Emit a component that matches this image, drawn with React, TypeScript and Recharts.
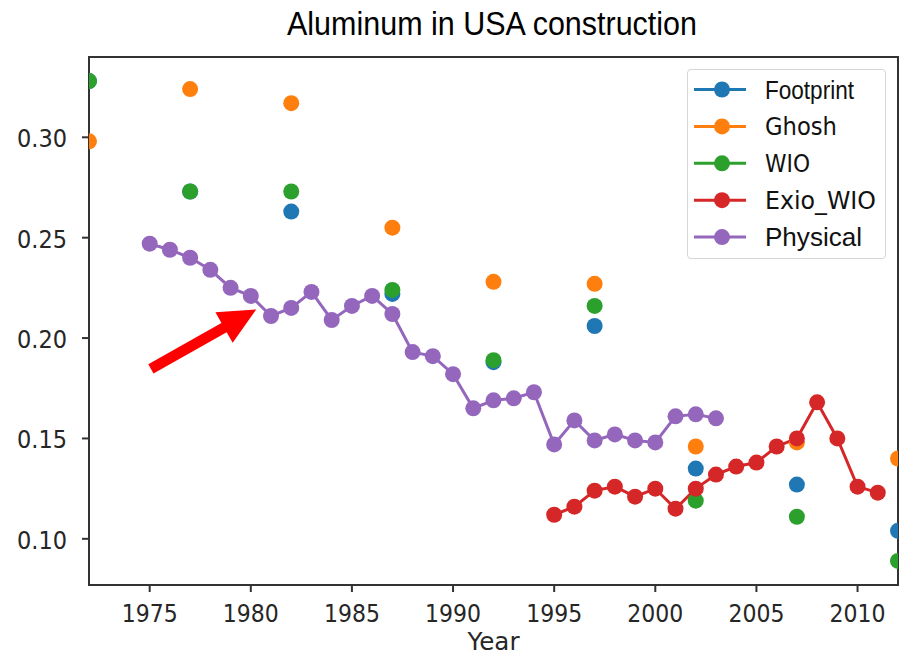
import { LineChart, Line, XAxis, YAxis, ReferenceArea, ReferenceLine, Legend } from 'recharts';

// years with the 5-yearly benchmark estimates
const benchmarkYears = [1972, 1977, 1982, 1987, 1992, 1997, 2002, 2007, 2012];
const footprint = [0.328, 0.273, 0.263, 0.222, 0.188, 0.206, 0.135, 0.127, 0.104];
const ghosh = [0.298, 0.324, 0.317, 0.255, 0.228, 0.227, 0.146, 0.148, 0.140];
const wio = [0.328, 0.273, 0.273, 0.224, 0.189, 0.216, 0.119, 0.111, 0.089];

const exioYears = [1995, 1996, 1997, 1998, 1999, 2000, 2001, 2002, 2003, 2004, 2005, 2006, 2007, 2008, 2009, 2010, 2011];
const exioWio = [0.112, 0.116, 0.124, 0.126, 0.121, 0.125, 0.115, 0.125, 0.132, 0.136, 0.138, 0.146, 0.150, 0.168, 0.150, 0.126, 0.123];

const physicalYears = [1975, 1976, 1977, 1978, 1979, 1980, 1981, 1982, 1983, 1984, 1985, 1986, 1987, 1988, 1989, 1990, 1991, 1992, 1993, 1994, 1995, 1996, 1997, 1998, 1999, 2000, 2001, 2002, 2003];
const physical = [0.247, 0.244, 0.240, 0.234, 0.225, 0.221, 0.211, 0.215, 0.223, 0.209, 0.216, 0.221, 0.212, 0.193, 0.191, 0.182, 0.165, 0.169, 0.170, 0.173, 0.147, 0.159, 0.149, 0.152, 0.149, 0.148, 0.161, 0.162, 0.160];

const xTicks = [1975, 1980, 1985, 1990, 1995, 2000, 2005, 2010];
const yTicks = [0.1, 0.15, 0.2, 0.25, 0.3];
const xDomain = [1972, 2012];
const yDomain = [0.077, 0.34];

// annotation arrow, in data units
const arrowFrom = { x: 1975.06, y: 0.1846 };
const arrowTo = { x: 1980.27, y: 0.2143 };

const series = [
  { key: 'Footprint', color: '#1f77b4', font: 'Liberation Sans', size: 25, len: 89 },
  { key: 'Ghosh', color: '#ff7f0e', font: 'DejaVu Sans', size: 24, len: 72 },
  { key: 'WIO', color: '#2ca02c', font: 'DejaVu Sans', size: 24, len: 45 },
  { key: 'Exio_WIO', color: '#d62728', font: 'DejaVu Sans', size: 24, len: 111 },
  { key: 'Physical', color: '#9467bd', font: 'Liberation Sans', size: 25, len: 97 },
];

const pick = (years: number[], vals: number[], y: number) => {
  const i = years.indexOf(y);
  return i < 0 ? null : vals[i];
};

const data: any[] = [];
for (let y = xDomain[0]; y <= xDomain[1]; y++) {
  data.push({
    year: y,
    Footprint: pick(benchmarkYears, footprint, y),
    Ghosh: pick(benchmarkYears, ghosh, y),
    WIO: pick(benchmarkYears, wio, y),
    Exio_WIO: pick(exioYears, exioWio, y),
    Physical: pick(physicalYears, physical, y),
  });
}

const axisColor = '#333';
const tickColor = '#262626';

const XTick = (props: any) => (
  <text x={props.x} y={props.y + 28} textAnchor="middle" fill={tickColor}
    fontFamily="DejaVu Sans" fontSize={25} textLength={56} lengthAdjust="spacingAndGlyphs">
    {props.payload.value}
  </text>
);

const YTick = (props: any) => (
  <text x={props.x - 13} y={props.y + 10} textAnchor="end" fill={tickColor}
    fontFamily="DejaVu Sans" fontSize={25} textLength={50} lengthAdjust="spacingAndGlyphs">
    {Number(props.payload.value).toFixed(2)}
  </text>
);

const Arrow = (props: any) => {
  const { x1, y1, x2, y2 } = props;
  const dx = x2 - x1;
  const dy = y2 - y1;
  const len = Math.sqrt(dx * dx + dy * dy);
  const ux = dx / len, uy = dy / len;
  const nx = -uy, ny = ux;
  const shaft = 5.3, head = 17.5, headLen = 37;
  const bx = x2 - ux * headLen, by = y2 - uy * headLen;
  const pts = [
    [x1 + nx * shaft, y1 + ny * shaft],
    [bx + nx * shaft, by + ny * shaft],
    [bx + nx * head, by + ny * head],
    [x2, y2],
    [bx - nx * head, by - ny * head],
    [bx - nx * shaft, by - ny * shaft],
    [x1 - nx * shaft, y1 - ny * shaft],
  ];
  return <polygon points={pts.map((p) => p.join(',')).join(' ')} fill="#ff0000" />;
};

const LegendBox = () => (
  <div style={{ width: 199, height: 190, boxSizing: 'border-box', border: '1.5px solid #d6d6d6', borderRadius: 4, background: '#fff' }}>
    <svg width={197} height={188} style={{ display: 'block' }}>
      {series.map((s, i) => {
        const cy = 19.5 + i * 36.9;
        return (
          <g key={s.key}>
            <line x1={6} x2={58} y1={cy} y2={cy} stroke={s.color} strokeWidth={3} />
            <circle cx={34} cy={cy} r={8} fill={s.color} />
            <text x={77} y={cy + 9} fill="#111" fontFamily={s.font} fontSize={s.size}
              textLength={s.len} lengthAdjust="spacingAndGlyphs">{s.key}</text>
          </g>
        );
      })}
    </svg>
  </div>
);

export default function App() {
  return (
    <div style={{ position: 'absolute', left: 0, top: 0, width: 899, height: 658, background: '#fff' }}>
      <svg width={899} height={50} style={{ position: 'absolute', left: 0, top: 0 }}>
        <text x={492} y={35} textAnchor="middle" fill="#000" fontFamily="Liberation Sans" fontSize={34}
          textLength={410} lengthAdjust="spacingAndGlyphs">Aluminum in USA construction</text>
      </svg>
      <LineChart width={899} height={658} data={data} margin={{ top: 57, right: 1, bottom: 0, left: 0 }}>
        <XAxis dataKey="year" type="number" domain={xDomain} ticks={xTicks} allowDataOverflow
          height={73} tickSize={7} tick={XTick} stroke={axisColor} strokeWidth={2}
          label={{
            content: (p: any) => (
              <text x={p.viewBox.x + p.viewBox.width / 2} y={p.viewBox.y + 65} textAnchor="middle"
                fill={tickColor} fontFamily="DejaVu Sans" fontSize={24} textLength={52} lengthAdjust="spacingAndGlyphs">Year</text>
            ),
          }} />
        <YAxis type="number" domain={yDomain} ticks={yTicks} allowDataOverflow width={89}
          tickSize={7} tick={YTick} stroke={axisColor} strokeWidth={2} />
        <ReferenceArea x1={xDomain[0]} x2={xDomain[1]} y1={yDomain[0]} y2={yDomain[1]}
          fill="none" stroke={axisColor} strokeWidth={2} />
        {series.map((s) => (
          <Line key={s.key} dataKey={s.key} type="linear" stroke={s.color} strokeWidth={3}
            dot={{ r: 8, fill: s.color, stroke: 'none' }} activeDot={false} isAnimationActive={false} />
        ))}
        <ReferenceLine segment={[arrowFrom, arrowTo]} shape={Arrow} ifOverflow="visible" />
        <Legend content={LegendBox} wrapperStyle={{ left: 687, top: 69, width: 199, height: 190 }}
          layout="vertical" align="center" verticalAlign="middle" />
      </LineChart>
    </div>
  );
}
